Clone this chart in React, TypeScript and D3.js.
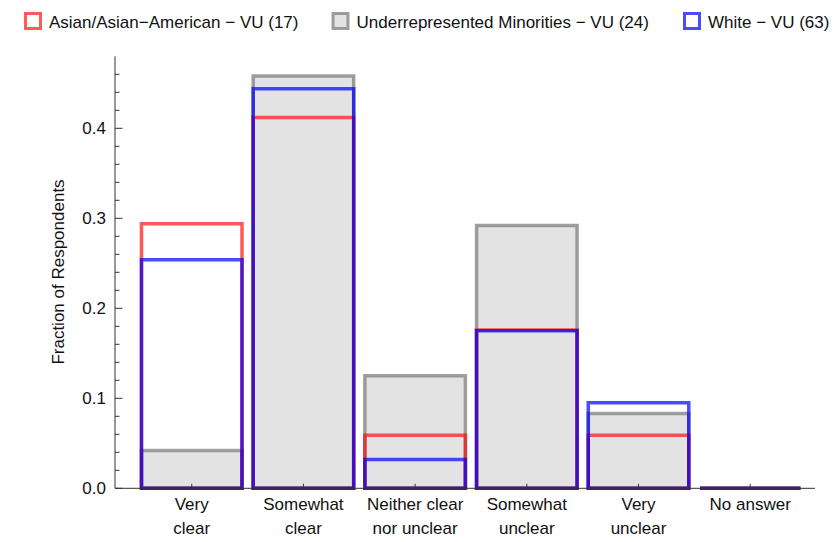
import React from "react";
import * as d3 from "d3";

const categories: string[][] = [
  ["Very", "clear"],
  ["Somewhat", "clear"],
  ["Neither clear", "nor unclear"],
  ["Somewhat", "unclear"],
  ["Very", "unclear"],
  ["No answer"],
];

const seriesNames = [
  "Asian/Asian\u2212American \u2212 VU (17)",
  "Underrepresented Minorities \u2212 VU (24)",
  "White \u2212 VU (63)",
];

const asianValues = [0.294, 0.412, 0.059, 0.176, 0.059, 0];
const urmValues = [0.042, 0.458, 0.125, 0.292, 0.083, 0];
const whiteValues = [0.254, 0.444, 0.032, 0.175, 0.095, 0];

const majorTicks = [0, 0.1, 0.2, 0.3, 0.4];
const minorTicks = [0.02, 0.04, 0.06, 0.08, 0.12, 0.14, 0.16, 0.18, 0.22, 0.24, 0.26, 0.28, 0.32, 0.34, 0.36, 0.38, 0.42, 0.44, 0.46];

const RED = "rgba(255,0,0,0.65)";
const BLUE = "rgba(0,0,255,0.7)";
const GRAY = "rgba(120,120,120,0.7)";
const FILL = "rgba(200,200,200,0.5)";
const FONT = "'Liberation Sans', Arial, sans-serif";
const FS = 17;

export default function App() {
  const width = 837;
  const height = 542;
  const y = d3.scaleLinear().domain([0, 0.48]).range([488.3, 56.3]);
  const x = d3.scaleLinear().domain([0.313, 6.58]).range([115, 815]);
  const step = x(2) - x(1);
  const bw = step * 0.9;

  const series = [
    { vals: urmValues, stroke: GRAY, fill: FILL },
    { vals: asianValues, stroke: RED, fill: "none" },
    { vals: whiteValues, stroke: BLUE, fill: "none" },
  ];

  const legend = [
    { name: seriesNames[0], stroke: RED, fill: "white", x: 25.5 },
    { name: seriesNames[1], stroke: GRAY, fill: FILL, x: 333 },
    { name: seriesNames[2], stroke: BLUE, fill: "white", x: 684.5 },
  ];

  const barPath = (cx: number, v: number) => {
    const x0 = cx - bw / 2;
    const x1 = cx + bw / 2;
    return `M${x0},${y(0)}V${y(v)}H${x1}V${y(0)}Z`;
  };

  return (
    <svg width={width} height={height} style={{ position: "absolute", left: 0, top: 0, background: "white" }}>
      {/* legend */}
      {legend.map((l, i) => (
        <g key={i}>
          <rect x={l.x} y={13.5} width={15} height={15} fill={l.fill} stroke={l.stroke} strokeWidth={3} />
          <text x={l.x + 23.5} y={27.5} fontFamily={FONT} fontSize={FS} fill="#111">
            {l.name}
          </text>
        </g>
      ))}

      {/* bars */}
      {series.map((s, si) => (
        <g key={si}>
          {s.vals.map((v, i) => (
            <path key={i} d={barPath(x(i + 1), v)} fill={s.fill} stroke={s.stroke} strokeWidth={3.5} />
          ))}
        </g>
      ))}

      {/* axes */}
      <line x1={x.range()[0]} x2={x.range()[1]} y1={y(0)} y2={y(0)} stroke="#333" strokeWidth={1} />
      <line x1={115} x2={115} y1={y(0)} y2={y.range()[1]} stroke="#333" strokeWidth={1} />
      {majorTicks.map((t) => (
        <g key={"M" + t}>
          <line x1={115} x2={122.5} y1={y(t)} y2={y(t)} stroke="#333" strokeWidth={1} />
          <text x={106} y={y(t) + 6} textAnchor="end" fontFamily={FONT} fontSize={FS} fill="#111">
            {t.toFixed(1)}
          </text>
        </g>
      ))}
      {minorTicks.map((t) => (
        <line key={"m" + t} x1={115} x2={119.5} y1={y(t)} y2={y(t)} stroke="#333" strokeWidth={1} />
      ))}
      {categories.map((c, i) => (
        <g key={"c" + i}>
          <line x1={x(i + 1)} x2={x(i + 1)} y1={y(0)} y2={y(0) - 4.5} stroke="#333" strokeWidth={1} />
          {c.map((line, li) => (
            <text key={li} x={x(i + 1)} y={510 + li * 24} textAnchor="middle" fontFamily={FONT} fontSize={FS} fill="#111">
              {line}
            </text>
          ))}
        </g>
      ))}
      <text
        transform={`translate(64,272) rotate(-90)`}
        textAnchor="middle"
        fontFamily={FONT}
        fontSize={FS}
        fill="#111"
      >
        Fraction of Respondents
      </text>
    </svg>
  );
}
